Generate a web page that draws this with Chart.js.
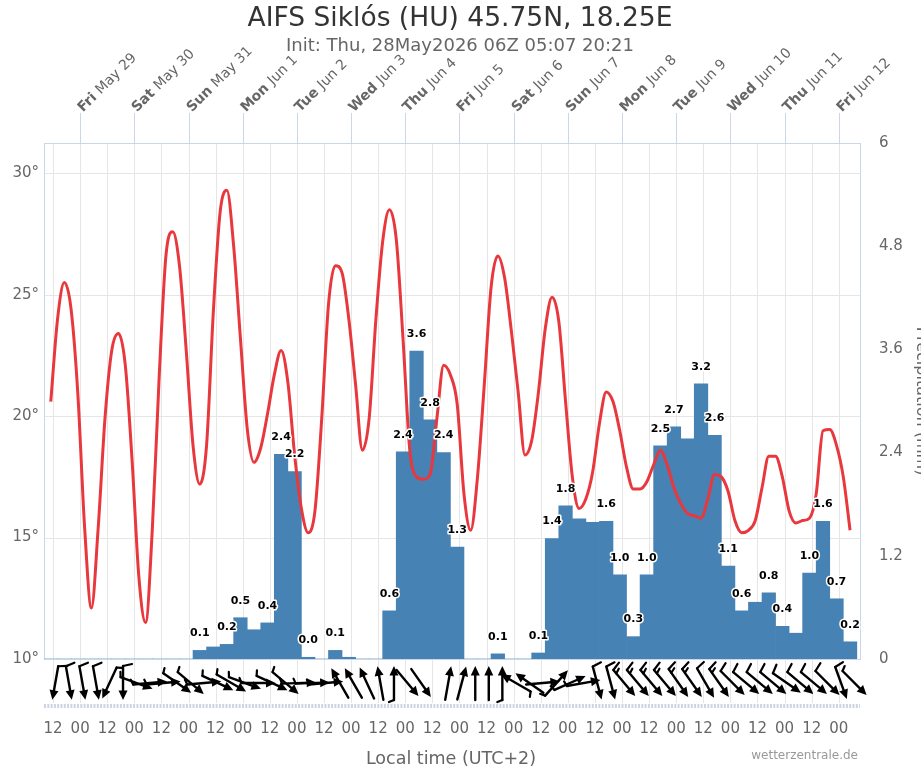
<!DOCTYPE html>
<html>
<head>
<meta charset="utf-8">
<script src="https://cdn.jsdelivr.net/npm/chart.js@4.4.1/dist/chart.umd.min.js"></script>
<style>
html, body { margin:0; padding:0; background:#fff; }
#wrap { width:921px; height:768px; }
</style>
</head>
<body>
<div id="wrap"><canvas id="chart1" width="921" height="768"></canvas></div>
<script>
// x axis: hours after Thu 28 May 08:00 local (06Z), local = UTC+2
const startLocalHour = 8;

// temperature (°C), 3-hourly from hour 3
const tempStart = 3, tempStep = 3;
const temperature = [
    20.6, 24.0, 25.5, 24.4, 20.9, 15.4, 12.1, 15.4,
    19.9, 22.7, 23.4, 22.1, 18.2, 13.4, 11.5, 15.4,
    21.6, 26.6, 27.6, 26.2, 22.7, 18.8, 17.2, 18.8,
    24.3, 28.4, 29.3, 27.0, 23.2, 19.5, 18.1, 18.7,
    20.1, 21.7, 22.7, 21.4, 18.4, 16.2, 15.2, 16.1,
    19.9, 24.6, 26.2, 25.9, 24.0, 21.3, 18.6, 19.9,
    24.0, 27.2, 28.5, 27.3, 23.2, 18.6, 17.5, 17.4,
    17.6, 19.9, 22.1, 21.7, 20.5, 16.8, 15.3, 17.5,
    21.3, 25.3, 26.6, 25.7, 23.5, 21.0, 18.4, 19.0,
    21.0, 23.6, 24.9, 23.9, 20.6, 17.5, 16.2, 16.6,
    17.7, 19.7, 21.0, 20.6, 19.4, 17.9, 17.0, 17.0,
    17.3, 18.0, 18.6, 18.0, 17.05, 16.4, 16.0, 15.9,
    15.8, 16.6, 17.6, 17.5, 16.9, 15.7, 15.2, 15.3,
    15.7, 17.05, 18.35, 18.35, 17.5, 16.1, 15.6, 15.7,
    15.8, 16.8, 19.4, 19.45, 18.8, 17.5, 15.3
];

// precipitation (mm) per 6 hour bin, bins start at hour 0
const precipStep = 6;
const precipitation = [
    0, 0, 0, 0, 0, 0, 0, 0, 0, 0,
    0, 0.1, 0.14, 0.17, 0.48, 0.34, 0.42, 2.38, 2.18, 0.02,
    0, 0.1, 0.02, 0, 0, 0.56, 2.41, 3.58, 2.78, 2.4,
    1.3, 0, 0, 0.06, 0, 0, 0.07, 1.4, 1.78, 1.63,
    1.59, 1.6, 0.98, 0.26, 0.98, 2.48, 2.7, 2.56, 3.2, 2.6,
    1.08, 0.56, 0.66, 0.77, 0.38, 0.3, 1.0, 1.6, 0.7, 0.2
];

// wind, 6-hourly from hour 5: direction it blows from (deg) and speed (kt)
const windStart = 5, windStep = 6;
const windDir = [
    10, 350, 350, 350, 25, 0, 290, 265, 265, 305,
    310, 265, 295, 300, 290, 270, 295, 310, 268, 268,
    265, 150, 150, 155, 170, 180, 320, 325, 0, 190,
    195, 180, 180, 180, 120, 125, 265, 222, 246, 260,
    345, 345, 320, 320, 320, 320, 325, 325, 330, 325,
    315, 310, 310, 310, 305, 310, 310, 315, 340, 315
];
const windSpeed = [
    10, 10, 10, 10, 5, 10, 5, 5, 5, 5,
    5, 5, 5, 5, 5, 5, 5, 5, 5, 5,
    5, 3, 3, 3, 3, 5, 3, 3, 0, 3,
    3, 3, 3, 5, 5, 3, 3, 5, 5, 5,
    10, 10, 15, 15, 15, 15, 15, 15, 10, 15,
    10, 10, 10, 10, 10, 10, 10, 10, 10, 5
];

// top axis: midnights, first one at hour 16
const firstMidnight = 16;
const dayNames = ['Fri', 'Sat', 'Sun', 'Mon', 'Tue', 'Wed', 'Thu', 'Fri', 'Sat', 'Sun', 'Mon', 'Tue', 'Wed', 'Thu', 'Fri'];
const dayDates = ['May 29', 'May 30', 'May 31', 'Jun 1', 'Jun 2', 'Jun 3', 'Jun 4', 'Jun 5', 'Jun 6', 'Jun 7', 'Jun 8', 'Jun 9', 'Jun 10', 'Jun 11', 'Jun 12'];

const tempTicks = [10, 15, 20, 25, 30];
const precipTicks = [0, 1.2, 2.4, 3.6, 4.8, 6];

const FONT = "'DejaVu Sans', sans-serif";

const tempPoints = temperature.map(function(t, i) { return {x: tempStart + i * tempStep, y: t}; });
const precipPoints = precipitation.map(function(p, i) { return {x: i * precipStep + precipStep / 2, y: p}; });

//grid, frame and axes
const frame = {
    id: 'frame',
    beforeDatasetsDraw: function(chart) {
        const ctx = chart.ctx, a = chart.chartArea;
        const x = chart.scales.x, yT = chart.scales.yT;
        ctx.save();
        ctx.lineWidth = 1;
        ctx.strokeStyle = '#e6e6e6';
        // vertical lines every 12 h, down through the wind row
        for (let h = firstMidnight - 12; h <= x.max; h += 12) {
            const px = Math.round(x.getPixelForValue(h)) + 0.5;
            ctx.beginPath(); ctx.moveTo(px, a.top); ctx.lineTo(px, 703); ctx.stroke();
        }
        tempTicks.forEach(function(t) {
            if (t === tempTicks[0]) return;
            const py = Math.round(yT.getPixelForValue(t)) + 0.5;
            ctx.beginPath(); ctx.moveTo(a.left, py); ctx.lineTo(a.right, py); ctx.stroke();
        });
        ctx.strokeStyle = '#ccd6eb';
        ctx.strokeRect(Math.round(a.left) + 0.5, Math.round(a.top) + 0.5, Math.round(a.right - a.left), Math.round(a.bottom - a.top));
        ctx.restore();
    },
    afterDraw: function(chart) {
        const ctx = chart.ctx, a = chart.chartArea;
        const x = chart.scales.x, yT = chart.scales.yT, yP = chart.scales.yP;
        ctx.save();
        // titles
        ctx.textAlign = 'center';
        ctx.textBaseline = 'middle';
        ctx.fillStyle = '#333333';
        ctx.font = '26.5px ' + FONT;
        ctx.fillText('AIFS Siklós (HU) 45.75N, 18.25E', 460, 19);
        ctx.fillStyle = '#666666';
        ctx.font = '18px ' + FONT;
        ctx.fillText('Init: Thu, 28May2026 06Z 05:07 20:21', 460, 46);

        // left axis
        ctx.font = '15px ' + FONT;
        ctx.textAlign = 'right';
        tempTicks.forEach(function(t) {
            ctx.fillText(t + '°', a.left - 5, yT.getPixelForValue(t));
        });
        // right axis
        ctx.textAlign = 'left';
        precipTicks.forEach(function(p) {
            ctx.fillText(String(p), a.right + 19, yP.getPixelForValue(p));
        });
        ctx.save();
        ctx.translate(921, (a.top + a.bottom) / 2);
        ctx.rotate(Math.PI / 2);
        ctx.textAlign = 'center';
        ctx.font = '16px ' + FONT;
        ctx.fillText('Precipitation (mm)', 0, 0);
        ctx.restore();

        // bottom time labels
        ctx.textAlign = 'center';
        for (let h = firstMidnight - 12; h <= x.max; h += 12) {
            const hr = (startLocalHour + h) % 24;
            ctx.fillText(hr < 10 ? '0' + hr : String(hr), x.getPixelForValue(h), 729);
        }
        ctx.font = '17.5px ' + FONT;
        ctx.fillText('Local time (UTC+2)', 451, 759);
        ctx.font = '12px ' + FONT;
        ctx.fillStyle = '#999999';
        ctx.textAlign = 'right';
        ctx.fillText('wetterzentrale.de', 858, 756);

        // top day labels
        ctx.strokeStyle = '#ccd6eb';
        ctx.lineWidth = 1;
        ctx.textAlign = 'left';
        ctx.textBaseline = 'alphabetic';
        dayNames.forEach(function(name, i) {
            const px = Math.round(x.getPixelForValue(firstMidnight + i * 24)) + 0.5;
            ctx.beginPath(); ctx.moveTo(px, a.top); ctx.lineTo(px, 113); ctx.stroke();
            ctx.save();
            ctx.translate(px + 1, 114);
            ctx.rotate(-Math.PI / 4);
            ctx.fillStyle = '#666666';
            ctx.font = 'bold 14px ' + FONT;
            ctx.fillText(name, 2, 0);
            const w = ctx.measureText(name + ' ').width;
            ctx.font = '14px ' + FONT;
            ctx.fillText(dayDates[i], 2 + w, 0);
            ctx.restore();
        });

        // dotted strip under the wind row
        ctx.strokeStyle = '#cdd4e2';
        ctx.lineWidth = 4;
        ctx.setLineDash([2, 1.3]);
        ctx.beginPath(); ctx.moveTo(a.left, 706); ctx.lineTo(a.right, 706); ctx.stroke();
        ctx.setLineDash([]);

        // wind arrows
        const yc = 683, len = 34;
        ctx.strokeStyle = '#000';
        ctx.fillStyle = '#000';
        ctx.lineCap = 'round';
        windDir.forEach(function(dir, i) {
            const spd = windSpeed[i];
            if (!spd) return;
            const cx = x.getPixelForValue(windStart + i * windStep);
            const to = (dir + 180) * Math.PI / 180;
            const dx = Math.sin(to), dy = -Math.cos(to);
            const tx = cx - dx * len / 2, ty = yc - dy * len / 2;
            const hx = cx + dx * len / 2, hy = yc + dy * len / 2;
            ctx.lineWidth = 2.4;
            ctx.beginPath(); ctx.moveTo(tx, ty); ctx.lineTo(hx - dx * 6, hy - dy * 6); ctx.stroke();
            ctx.beginPath();
            ctx.moveTo(hx, hy);
            ctx.lineTo(hx - dx * 9.5 + dy * 4.5, hy - dy * 9.5 - dx * 4.5);
            ctx.lineTo(hx - dx * 9.5 - dy * 4.5, hy - dy * 9.5 + dx * 4.5);
            ctx.closePath(); ctx.fill();
            // barbs at the tail
            const px = dy, py = -dx;
            const n = Math.floor(spd / 10), half = spd % 10 >= 5;
            ctx.lineWidth = 2.2;
            for (let b = 0; b < n + (half ? 1 : 0); b++) {
                const bl = b < n ? 9 : 5;
                const bx = tx + dx * b * 4.5, by = ty + dy * b * 4.5;
                ctx.beginPath(); ctx.moveTo(bx, by);
                ctx.lineTo(bx + px * bl - dx * 2, by + py * bl - dy * 2); ctx.stroke();
            }
        });
        ctx.restore();
    }
};

//precipitation value labels, overlapping ones hidden (higher bar wins)
const barLabels = {
    id: 'barLabels',
    afterDatasetsDraw: function(chart) {
        const ctx = chart.ctx;
        const meta = chart.getDatasetMeta(1);
        ctx.save();
        ctx.font = 'bold 11px ' + FONT;
        ctx.textAlign = 'center';
        ctx.textBaseline = 'middle';
        const items = [];
        meta.data.forEach(function(bar, i) {
            const v = precipitation[i];
            if (!(v > 0)) return;
            const text = v.toFixed(1);
            const w = ctx.measureText(text).width;
            const cy = bar.y - 17;
            items.push({v: v, text: text, x: bar.x, y: cy, x0: bar.x - w / 2, x1: bar.x + w / 2, y0: cy - 7, y1: cy + 7});
        });
        items.sort(function(p, q) { return q.v - p.v; });
        const shown = [];
        items.forEach(function(it) {
            const hit = shown.some(function(s) {
                return it.x0 < s.x1 && it.x1 > s.x0 && it.y0 < s.y1 && it.y1 > s.y0;
            });
            if (!hit) shown.push(it);
        });
        shown.forEach(function(it) {
            ctx.lineWidth = 3;
            ctx.strokeStyle = '#ffffff';
            ctx.lineJoin = 'round';
            ctx.strokeText(it.text, it.x, it.y);
            ctx.fillStyle = '#000000';
            ctx.fillText(it.text, it.x, it.y);
        });
        ctx.restore();
    }
};

const config = {
    type: 'bar',
    data: {
        datasets: [{
            type: 'line',
            label: 'Temperature',
            data: tempPoints,
            xAxisID: 'x',
            yAxisID: 'yT',
            borderColor: '#e8383d',
            borderWidth: 3,
            pointRadius: 0,
            cubicInterpolationMode: 'monotone',
            fill: false,
            order: 0
        }, {
            type: 'bar',
            label: 'Precipitation',
            data: precipPoints,
            xAxisID: 'x',
            yAxisID: 'yP',
            backgroundColor: '#4682b4',
            borderWidth: 0,
            barPercentage: 1,
            categoryPercentage: 1,
            order: 1
        }]
    },
    options: {
        responsive: false,
        animation: false,
        devicePixelRatio: 1,
        layout: { padding: { left: 44, right: 61, top: 143, bottom: 109 } },
        plugins: { legend: { display: false }, tooltip: { enabled: false } },
        scales: {
            x: { type: 'linear', min: 0, max: 361.4, offset: false, display: false },
            yT: { type: 'linear', min: 10, max: 31.25, display: false },
            yP: { type: 'linear', min: 0, max: 6, display: false }
        }
    },
    plugins: [frame, barLabels]
};

const myChart = new Chart(document.getElementById('chart1'), config);
</script>
</body>
</html>
